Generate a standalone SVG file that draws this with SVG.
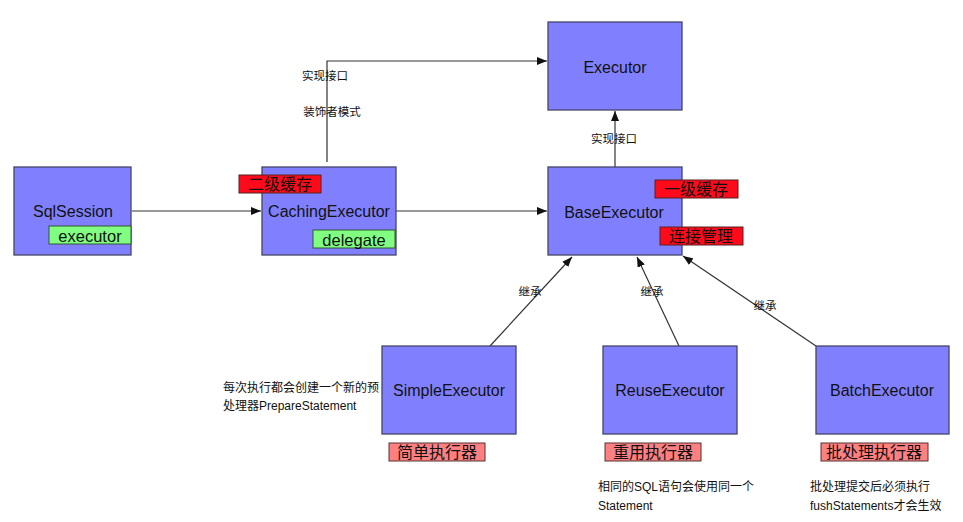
<svg xmlns="http://www.w3.org/2000/svg" width="963" height="522" viewBox="0 0 963 522">
<style>
.node{fill:#8080ff;stroke:#444466;stroke-width:1.3}
.nt{font-family:"Liberation Sans","Noto Sans CJK SC",sans-serif;font-size:16px;fill:#111;text-anchor:middle;dominant-baseline:central}
.red{fill:#ff0a1a;stroke:#552222;stroke-width:1}
.pink{fill:#ff8080;stroke:#553333;stroke-width:1}
.green{fill:#80ff80;stroke:#335533;stroke-width:1}
.tag{font-family:"Liberation Sans","Noto Sans CJK SC",sans-serif;font-size:16px;fill:#111;text-anchor:middle;dominant-baseline:central}
.en{font-size:16.5px}
.sm{font-family:"Liberation Sans","Noto Sans CJK SC",sans-serif;font-size:11.5px;fill:#111}
.note{font-size:12px}
.ln{fill:none;stroke:#333;stroke-width:1.2}
</style>
<defs>
<marker id="ah" markerWidth="10" markerHeight="8" refX="10" refY="4" orient="auto" markerUnits="userSpaceOnUse">
<path d="M0,0 L10,4 L0,8 Z" fill="#111"/>
</marker>
</defs>
<rect width="963" height="522" fill="#fff"/>
<g id="connectors">
<line class="ln" x1="132" y1="211" x2="261" y2="211" marker-end="url(#ah)"/>
<line class="ln" x1="396" y1="211" x2="547" y2="211" marker-end="url(#ah)"/>
<polyline class="ln" points="327,162 327,61 547,61" marker-end="url(#ah)"/>
<line class="ln" x1="615" y1="167" x2="615" y2="111" marker-end="url(#ah)"/>
<line class="ln" x1="490" y1="346" x2="572" y2="257" marker-end="url(#ah)"/>
<line class="ln" x1="679" y1="346" x2="637" y2="257" marker-end="url(#ah)"/>
<line class="ln" x1="816" y1="346" x2="683" y2="256" marker-end="url(#ah)"/>
<text class="sm" x="325" y="80" text-anchor="middle">实现接口</text>
<text class="sm" x="332" y="116" text-anchor="middle">装饰者模式</text>
<text class="sm" x="614" y="143" text-anchor="middle">实现接口</text>
<text class="sm" x="530" y="296" text-anchor="middle">继承</text>
<text class="sm" x="652" y="296" text-anchor="middle">继承</text>
<text class="sm" x="765" y="310" text-anchor="middle">继承</text>
</g>
<g id="SqlSession">
<rect class="node" x="14" y="167" width="117" height="88"/>
<text class="nt" x="73" y="211">SqlSession</text>
<rect class="green" x="49" y="226" width="82" height="18"/>
<text class="tag en" x="90" y="236">executor</text>
</g>
<g id="CachingExecutor">
<rect class="node" x="262" y="167" width="134" height="88"/>
<text class="nt" x="329" y="211">CachingExecutor</text>
<rect class="red" x="239" y="175" width="82" height="18"/>
<text class="tag" x="280" y="184">二级缓存</text>
<rect class="green" x="313" y="230" width="82" height="18"/>
<text class="tag en" x="354" y="240">delegate</text>
</g>
<g id="Executor">
<rect class="node" x="548" y="22" width="134" height="88"/>
<text class="nt" x="615" y="67">Executor</text>
</g>
<g id="BaseExecutor">
<rect class="node" x="548" y="167" width="134" height="88"/>
<text class="nt" x="614" y="212">BaseExecutor</text>
<rect class="red" x="655" y="180" width="83" height="18"/>
<text class="tag" x="696" y="189">一级缓存</text>
<rect class="red" x="660" y="227" width="83" height="18"/>
<text class="tag" x="701" y="236">连接管理</text>
</g>
<g id="SimpleExecutor">
<rect class="node" x="382" y="346" width="134" height="88"/>
<text class="nt" x="449" y="390">SimpleExecutor</text>
<rect class="pink" x="389" y="443" width="96" height="18"/>
<text class="tag" x="437" y="452">简单执行器</text>
<text class="sm note" x="223" y="392">每次执行都会创建一个新的预</text>
<text class="sm note" x="223" y="410">处理器PrepareStatement</text>
</g>
<g id="ReuseExecutor">
<rect class="node" x="603" y="346" width="134" height="88"/>
<text class="nt" x="670" y="390">ReuseExecutor</text>
<rect class="pink" x="605" y="443" width="96" height="18"/>
<text class="tag" x="653" y="452">重用执行器</text>
<text class="sm note" x="598" y="491">相同的SQL语句会使用同一个</text>
<text class="sm note" x="598" y="510">Statement</text>
</g>
<g id="BatchExecutor">
<rect class="node" x="816" y="346" width="133" height="88"/>
<text class="nt" x="882" y="390">BatchExecutor</text>
<rect class="pink" x="821" y="443" width="107" height="18"/>
<text class="tag" x="874" y="452">批处理执行器</text>
<text class="sm note" x="810" y="491">批处理提交后必须执行</text>
<text class="sm note" x="810" y="510">fushStatements才会生效</text>
</g>
</svg>
